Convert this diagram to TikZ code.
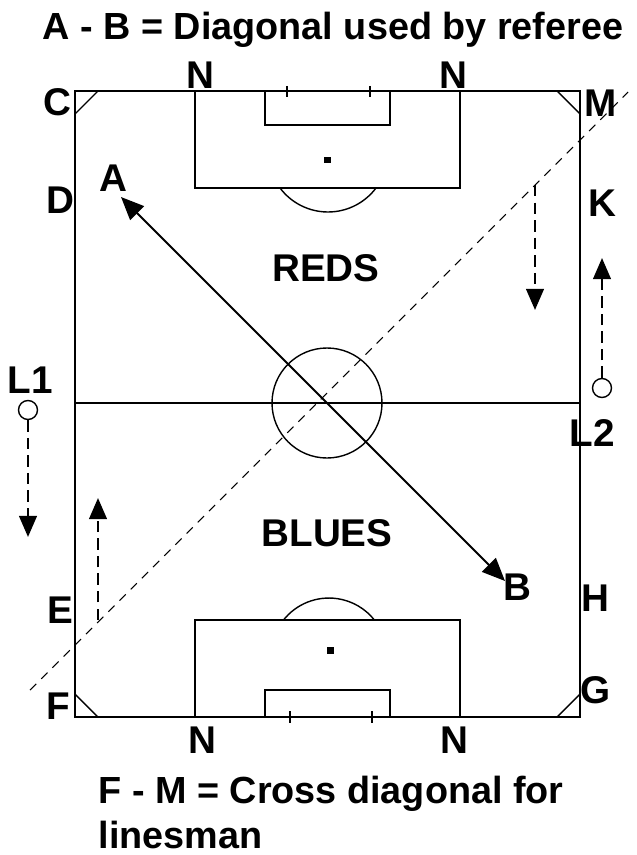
\documentclass[tikz,border=0pt]{standalone}
\usepackage{fontspec}
\setmainfont{Liberation Sans}
\usetikzlibrary{arrows.meta}

\begin{document}
\begin{tikzpicture}[x=0.02cm, y=-0.02cm, line width=0.8pt,
    lbl/.style={font=\bfseries\fontsize{22}{26}\selectfont, inner sep=0pt},
    bigtxt/.style={font=\bfseries\fontsize{21.5}{25.6}\selectfont, inner sep=0pt},
    linesman/.style={circle, draw, fill=white, minimum size=0.38cm, inner sep=0pt},
    run/.style={line width=1.4pt, dash pattern=on 6.5pt off 3.5pt, -{Triangle[width=10pt,length=12pt]}},
    diag/.style={line width=0.6pt, dash pattern=on 5pt off 4pt},
    spot/.style={fill=black, minimum size=0.14cm, inner sep=0pt}]
\useasboundingbox (0,0) rectangle (636,855);

    \draw (75,91) rectangle (580,717);
    \draw (75,403) -- (580,403);
    \draw (327,403) circle (55);

    \draw (195,91) rectangle (460,188);
    \draw (265,91) rectangle (390,125);
    \draw (287,86) -- (287,97);
    \draw (370,86) -- (370,97);
    \draw (280,188) arc[start angle=143.13, end angle=36.87, radius=60];
    \node[spot] (topspot) at (327,160) {};

    \draw (195,620) rectangle (460,717);
    \draw (265,690) rectangle (390,717);
    \draw (290,711) -- (290,723);
    \draw (372,711) -- (372,723);
    \draw (283.5,620) arc[start angle=218.4, end angle=321.6, radius=58];
    \node[spot] (botspot) at (330,650) {};

    \draw (75,114) -- (98,91);
    \draw (557,91) -- (580,114);
    \draw (75,694) -- (98,717);
    \draw (557,717) -- (580,694);

\node[bigtxt] (title) at (333,30) {A - B = Diagonal used by referee};
\node[bigtxt, anchor=north west, align=left] (note) at (98,775) {F - M = Cross diagonal for\\linesman};

\node[lbl] (Ntl) at (200,75) {N};
\node[lbl] (Ntr) at (453,75) {N};
\node[lbl] (Nbl) at (202,740) {N};
\node[lbl] (Nbr) at (454,740) {N};
\node[lbl] (C) at (57,102) {C};
\node[lbl] (M) at (601,103) {M};
\node[lbl] (D) at (60,200) {D};
\node[lbl] (K) at (602,203) {K};
\node[lbl] (E) at (60,610) {E};
\node[lbl] (F) at (58,706) {F};
\node[lbl] (G) at (596,690) {G};
\node[lbl] (H) at (595,598) {H};
\node[lbl] (A) at (113,178) {A};
\node[lbl] (B) at (517,587) {B};
\node[lbl] (reds) at (326,268) {REDS};
\node[lbl] (blues) at (327,533) {BLUES};
\node[lbl] (L1) at (30,380) {L1};
\node[lbl] (L2) at (592,433) {L2};

\coordinate (atip) at (121,197);
\coordinate (btip) at (505,581);
\draw[line width=1.2pt, {Triangle[width=11pt,length=13pt]}-{Triangle[width=11pt,length=13pt]}] (atip) -- (btip);

\coordinate (fend) at (30,690);
\coordinate (mend) at (628,92);
\draw[diag] (fend) -- (mend);

\node[linesman] (l1) at (28,410) {};
\node[linesman] (l2) at (602,388) {};
\coordinate (l1to) at (28,537);
\coordinate (l2to) at (602,258);
\draw[run] (l1) -- (l1to);
\draw[run] (l2) -- (l2to);

\coordinate (rfrom) at (535,185);
\coordinate (rto) at (535,310);
\draw[run] (rfrom) -- (rto);
\coordinate (bfrom) at (98,620);
\coordinate (bto) at (98,498);
\draw[run] (bfrom) -- (bto);
\end{tikzpicture}
\end{document}
